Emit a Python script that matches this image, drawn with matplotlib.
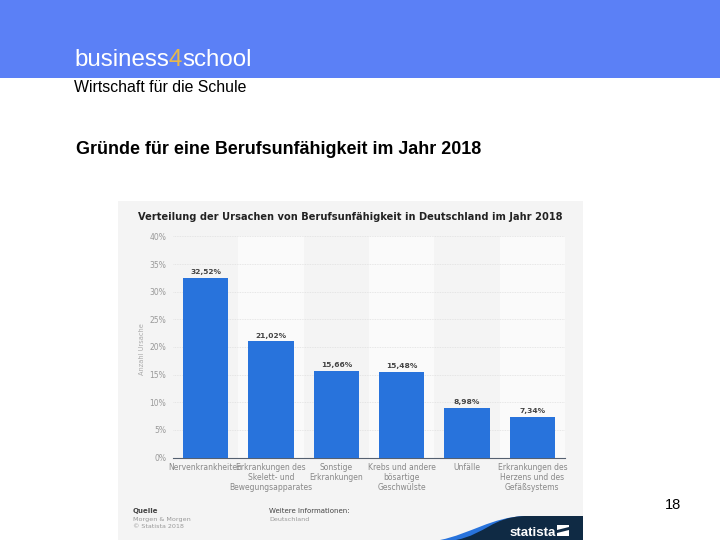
#!/usr/bin/env python3
"""Slide with the Statista bar chart on reasons for occupational disability."""

import matplotlib.pyplot as plt
from matplotlib.patches import PathPatch, Polygon, Rectangle
from matplotlib.path import Path

W, H = 720, 540
HEADER = "#5b80f6"
PANEL = "#f4f4f4"
BLUE = "#2873dc"
NAVY = "#0f2a44"
ARIAL = "Liberation Sans"

categories = [
    "Nervenkrankheiten",
    "Erkrankungen des\nSkelett- und\nBewegungsapparates",
    "Sonstige\nErkrankungen",
    "Krebs und andere\nbösartige\nGeschwülste",
    "Unfälle",
    "Erkrankungen des\nHerzens und des\nGefäßsystems",
]
shares = [32.52, 21.02, 15.66, 15.48, 8.98, 7.34]
share_labels = ["32,52%", "21,02%", "15,66%", "15,48%", "8,98%", "7,34%"]
y_ticks = [0, 5, 10, 15, 20, 25, 30, 35, 40]


def px_axes(fig, left, top, right, bottom, **kwargs):
    """Axes placed by pixel box, y counted from the top like in the picture."""
    return fig.add_axes(
        [left / W, 1 - bottom / H, (right - left) / W, (bottom - top) / H], **kwargs
    )


def fx(x):
    return x / W


def fy(y):
    return 1 - y / H


def swoosh_path(start, lift):
    return Path(
        [(fx(start), fy(540)), (fx(start + 30), fy(534)), (fx(492), fy(517 + lift)), (fx(525), fy(516 + lift)),
         (fx(583), fy(516 + lift)), (fx(583), fy(540)), (fx(start), fy(540))],
        [Path.MOVETO, Path.CURVE4, Path.CURVE4, Path.CURVE4, Path.LINETO, Path.LINETO, Path.CLOSEPOLY],
    )


fig = plt.figure(figsize=(W / 100, H / 100), dpi=100, facecolor="white")

# slide furniture
fig.patches.append(Rectangle((0, fy(78)), 1, 78 / H, transform=fig.transFigure, fc=HEADER, ec="none", zorder=-2))
t1 = fig.text(fx(74), fy(66), "business", family=ARIAL, fontsize=17.4, color="white")
renderer = fig.canvas.get_renderer()
x = t1.get_window_extent(renderer).x1 / W
t2 = fig.text(x, fy(66), "4", family=ARIAL, fontsize=17.4, color="#e8b84a")
x = t2.get_window_extent(renderer).x1 / W
fig.text(x, fy(66), "school", family=ARIAL, fontsize=17.4, color="white")
fig.text(fx(74), fy(92), "Wirtschaft für die Schule", family=ARIAL, fontsize=11.4, color="black")
fig.text(fx(76), fy(154), "Gründe für eine Berufsunfähigkeit im Jahr 2018", family=ARIAL,
         fontsize=12.9, fontweight="bold", color="black")
fig.text(fx(681), fy(509), "18", family=ARIAL, fontsize=10.5, color="black", ha="right")

# statista panel
fig.patches.append(Rectangle((fx(118), 0), 465 / W, (H - 201) / H, transform=fig.transFigure,
                             fc=PANEL, ec="none", zorder=-2))
fig.text(fx(138), fy(220), "Verteilung der Ursachen von Berufsunfähigkeit in Deutschland im Jahr 2018",
         fontsize=7.14, fontweight="bold", color="#222222")

ax = px_axes(fig, 173, 236.5, 565, 457.5, facecolor="#fafafa")
positions = range(len(categories))
for i in positions:
    if i % 2 == 0:
        ax.axvspan(i - 0.5, i + 0.5, color="#f4f4f4", lw=0, zorder=0)
ax.bar(positions, shares, width=0.69, color=BLUE, zorder=3)
for pos, val, lab in zip(positions, shares, share_labels):
    ax.annotate(lab, (pos, val), xytext=(0, 2), textcoords="offset points", ha="center", va="bottom",
                fontsize=5.4, color="#444444", fontweight="bold")
ax.set_xlim(-0.5, 5.5)
ax.set_ylim(0, 40)
ax.set_yticks(y_ticks)
ax.set_yticklabels([f"{v}%" for v in y_ticks], fontsize=5.5, color="#999999")
ax.set_xticks(list(positions))
ax.set_xticklabels(categories, fontsize=5.5, color="#888888", linespacing=1.15)
ax.tick_params(axis="both", length=0, pad=5)
ax.tick_params(axis="x", pad=4)
ax.grid(axis="y", color="#e0e0e0", lw=0.6, ls=(0, (1, 1)), zorder=1)
ax.set_axisbelow(True)
for side in ("top", "right", "left"):
    ax.spines[side].set_visible(False)
ax.spines["bottom"].set_color("#556070")
ax.spines["bottom"].set_linewidth(0.8)
fig.text(fx(141.5), fy(349), "Anzahl Ursache", rotation=90, fontsize=4.8, color="#aaaaaa",
         ha="center", va="center")

# source block
fig.text(fx(133), fy(513), "Quelle", fontsize=5, fontweight="bold", color="#444444")
fig.text(fx(133), fy(521), "Morgen & Morgen", fontsize=4.6, color="#999999")
fig.text(fx(133), fy(528), "© Statista 2018", fontsize=4.6, color="#999999")
fig.text(fx(269), fy(513), "Weitere Informationen:", fontsize=5, color="#444444")
fig.text(fx(269), fy(521), "Deutschland", fontsize=4.6, color="#999999")

# statista logo
fig.patches.append(PathPatch(swoosh_path(440, 0), transform=fig.transFigure, fc=BLUE, ec="none", zorder=-1))
fig.patches.append(PathPatch(swoosh_path(456, 0), transform=fig.transFigure, fc=NAVY, ec="none", zorder=-1))
fig.text(fx(510), fy(536.5), "statista", family=ARIAL, fontsize=9.6, fontweight="bold", color="white")
fig.patches.append(Rectangle((fx(557), fy(536)), 12 / W, 11 / H, transform=fig.transFigure,
                             fc="white", ec="none"))
fig.patches.append(Polygon([(fx(557), fy(530)), (fx(569), fy(527)), (fx(569), fy(530)), (fx(557), fy(533))],
                           transform=fig.transFigure, fc=NAVY, ec="none"))

fig.savefig("out.png", dpi=100)
